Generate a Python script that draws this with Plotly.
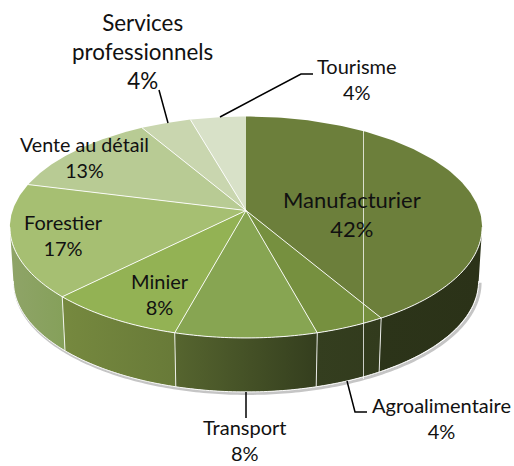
import numpy as np
import plotly.graph_objects as go

# ---- data ----
categories = ["Manufacturier", "Agroalimentaire", "Transport", "Minier",
              "Forestier", "Vente au détail", "Services professionnels", "Tourisme"]
values = [41.6, 4.2, 8.4, 8.2, 16.6, 12.6, 4.0, 4.4]
top_colors = ["#6C7F3B", "#76903F", "#87A552", "#93B254",
              "#A6BF72", "#B8CB94", "#C9D6AF", "#D8E1C8"]
side_left = ["#2C3419", "#343E1F", "#56652F", "#76893F",
             "#8FA468", "#B8CB94", "#C9D6AF", "#D8E1C8"]
side_right = ["#2B3218", "#323B1D", "#343E1E", "#687A38",
              "#85A05A", "#B8CB94", "#C9D6AF", "#D8E1C8"]

# ---- projection of the tilted pie ----
CX, CY = 246.0, 210.5
R, K, P = 233.4, 108.2, 0.151
DEPTH, BOTTOM_SCALE = 54.0, 0.985
VIS_RIGHT = np.degrees(np.arccos(-P))      # first visible side angle
VIS_LEFT = 360.0 - VIS_RIGHT               # last visible side angle


def project(phi_deg, bottom=False):
    phi = np.radians(np.asarray(phi_deg, dtype=float))
    w = 1 + P * np.cos(phi)
    x = R * np.sin(phi) / w
    y = -K * np.cos(phi) / w
    if bottom:
        return CX + BOTTOM_SCALE * x, CY + y + DEPTH
    return CX + x, CY + y


total = sum(values)
edges = np.concatenate([[0.0], np.cumsum(values) / total * 360.0])
fig = go.Figure()


def line(x, y, color, width, dash=None):
    fig.add_trace(go.Scatter(x=x, y=y, mode="lines", hoverinfo="skip", showlegend=False,
                             line=dict(color=color, width=width, dash=dash, simplify=False)))


# soft shadow of the body
arc = np.linspace(VIS_RIGHT, VIS_LEFT, 200)
bx, by = project(arc, bottom=True)
line(bx + 1.5, by + 1.5, "rgba(90,90,90,0.35)", 3)

# side walls
for i in range(len(values)):
    a = max(edges[i], VIS_RIGHT)
    b = min(edges[i + 1], VIS_LEFT)
    if b <= a:
        continue
    t = np.linspace(a, b, 80)
    tx, ty = project(t)
    ux, uy = project(t[::-1], bottom=True)
    fig.add_trace(go.Scatter(
        x=np.r_[tx, ux, tx[0]], y=np.r_[ty, uy, ty[0]], mode="lines", fill="toself",
        line=dict(width=0), hoverinfo="skip", showlegend=False,
        fillgradient=dict(type="horizontal",
                          colorscale=[[0, side_left[i]], [1, side_right[i]]])))

# top face
for i in range(len(values)):
    t = np.linspace(edges[i], edges[i + 1], 120)
    tx, ty = project(t)
    fig.add_trace(go.Scatter(
        x=np.r_[CX, tx, CX], y=np.r_[CY, ty, CY], mode="lines", fill="toself",
        fillcolor=top_colors[i], line=dict(width=0), hoverinfo="skip", showlegend=False))

# slice separators
for e in edges[:-1]:
    if e == 0:
        continue
    ex, ey = project(e)
    line([CX, float(ex)], [CY, float(ey)], "rgba(255,255,255,0.9)", 1)
    if VIS_RIGHT < e < VIS_LEFT:
        fx, fy = project(e, bottom=True)
        line([float(ex), float(fx)], [float(ey), float(fy)], "rgba(255,255,255,0.85)", 1)

# white rims
tx, ty = project(arc)
line(tx, ty, "rgba(255,255,255,0.95)", 1)
line(bx, by, "rgba(255,255,255,0.95)", 1)

# vertical artefact line
line([363.5, 363.5], [131, 379], "rgba(255,255,255,0.75)", 1)

# leader lines
line([159, 168], [90, 123], "black", 1.5)
line([220, 301, 313], [117, 74, 74], "black", 1.5)
line([246, 246], [392, 418], "black", 1.5)
line([347, 355, 367], [381, 412, 412], "black", 1.5)

# labels: x, y, font size
label_pos = {
    "Manufacturier": (352, 214, 22),
    "Agroalimentaire": (441, 418, 20),
    "Transport": (245, 440, 20),
    "Minier": (160, 294, 20),
    "Forestier": (63, 235, 20),
    "Vente au détail": (84, 157, 19.7),
    "Services professionnels": (142, 51, 22.4),
    "Tourisme": (357, 79, 20),
}
for name, v in zip(categories, values):
    x, y, size = label_pos[name]
    wrapped = name.replace("Services professionnels", "Services<br>professionnels")
    fig.add_annotation(x=x, y=y, xref="x", yref="y", showarrow=False, xanchor="center",
                       yanchor="middle", align="center", text=f"{wrapped}<br>{round(v)}%",
                       font=dict(family="Lato", size=size, color="#111111"))

fig.update_layout(
    width=514, height=466, margin=dict(l=0, r=0, t=0, b=0),
    paper_bgcolor="white", plot_bgcolor="white", showlegend=False,
    xaxis=dict(range=[0, 514], visible=False, fixedrange=True),
    yaxis=dict(range=[466, 0], visible=False, fixedrange=True),
)
fig.write_html("out.html", config=dict(displayModeBar=False),
               post_script="document.body.style.margin='0';")
